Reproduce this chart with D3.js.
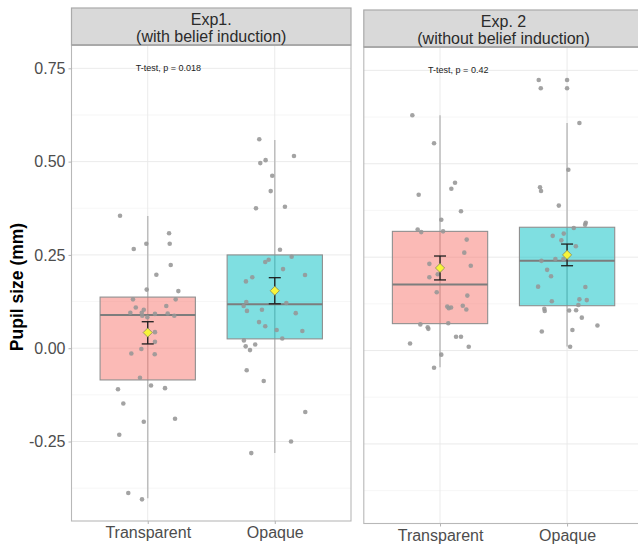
<!DOCTYPE html>
<html>
<head>
<meta charset="utf-8">
<script src="https://cdn.jsdelivr.net/npm/d3@7"></script>
<style>
  html, body { margin: 0; padding: 0; background: #ffffff; }
  svg { display: block; }
</style>
</head>
<body>
<svg id="chart" width="638" height="544"></svg>
<script>
// ---------------- DATA ----------------
const categories = ["Transparent", "Opaque"];
const panelTitles = [["Exp1.", "(with belief induction)"], ["Exp. 2", "(without belief induction)"]];
const testLabels = ["T-test, p = 0.018", "T-test, p = 0.42"];
const yTicks = [-0.25, 0, 0.25, 0.5, 0.75];
const yTickLabels = ["-0.25", "0.00", "0.25", "0.50", "0.75"];
const yMinor = [-0.375, -0.125, 0.125, 0.375, 0.625];
const yTitle = "Pupil size (mm)";

// box statistics: [lowerWhisker, q1, median, q3, upperWhisker]  (panel 1 then panel 2)
const boxExp1 = [[-0.402, -0.085, 0.089, 0.137, 0.354], [-0.281, 0.025, 0.118, 0.250, 0.558]];
const boxExp2 = [[-0.045, 0.072, 0.177, 0.319, 0.630], [0.011, 0.120, 0.240, 0.330, 0.609]];
// mean, lower error, upper error
const meanExp1 = [[0.042, 0.0115, 0.071], [0.154, 0.119, 0.189]];
const meanExp2 = [[0.221, 0.189, 0.253], [0.256, 0.227, 0.285]];

// individual observations (value) and their jitter offset (category units)
const exp1TranspY = [0.355,0.308,0.280,0.280,0.266,0.223,0.197,0.157,0.153,0.131,0.131,0.113,0.109,0.103,0.095,0.095,0.092,0.093,0.087,0.087,0.083,0.043,0.017,-0.014,-0.002,-0.016,-0.079,-0.100,-0.107,-0.110,-0.148,-0.189,-0.197,-0.232,-0.388,-0.405];
const exp1TranspJ = [-0.218,0.168,-0.011,0.173,-0.110,0.181,0.068,-0.008,0.241,-0.116,0.220,0.146,-0.094,-0.031,-0.137,-0.047,0.057,0.157,-0.043,0.209,-0.003,0.057,0.057,-0.129,-0.050,0.055,-0.061,0.026,0.136,-0.234,-0.192,0.215,-0.031,-0.224,-0.153,-0.045];
const exp1OpaqY = [0.560,0.496,0.504,0.515,0.462,0.421,0.375,0.379,0.264,0.245,0.237,0.231,0.212,0.190,0.196,0.179,0.124,0.113,0.121,0.100,0.103,0.094,0.070,0.059,0.049,0.046,0.026,0.021,0.005,-0.005,0.010,-0.059,-0.088,-0.171,-0.250,-0.281];
const exp1OpaqJ = [-0.122,-0.114,-0.072,0.151,-0.020,-0.032,-0.148,0.080,0.041,0.133,-0.048,-0.075,0.065,-0.177,0.238,-0.227,-0.224,-0.245,0.091,-0.219,-0.101,0.165,-0.124,-0.075,0.015,0.217,0.059,-0.243,-0.229,-0.195,-0.154,-0.221,-0.087,0.240,0.128,-0.185];
const exp2TranspY = [0.630,0.555,0.449,0.433,0.417,0.373,0.350,0.324,0.317,0.319,0.297,0.262,0.232,0.227,0.204,0.196,0.156,0.147,0.118,0.115,0.120,0.113,0.110,0.070,0.062,0.058,0.073,0.037,0.037,0.019,0.010,-0.011,-0.046];
const exp2TranspJ = [-0.218,-0.047,0.118,0.089,-0.168,0.165,0.010,-0.176,-0.148,0.024,0.210,0.191,-0.084,0.242,-0.018,-0.084,-0.026,0.215,0.057,0.087,0.179,0.069,0.207,-0.155,-0.097,-0.092,0.065,0.126,0.165,-0.236,0.226,0.010,-0.047];
const exp2OpaqY = [0.724,0.724,0.702,0.702,0.609,0.484,0.437,0.427,0.388,0.342,0.337,0.328,0.313,0.307,0.295,0.279,0.245,0.245,0.240,0.216,0.199,0.171,0.170,0.132,0.137,0.135,0.122,0.112,0.106,0.107,0.108,0.088,0.067,0.055,0.051,0.010];
const exp2OpaqJ = [-0.223,0,-0.207,0,0.097,0.010,-0.213,-0.205,-0.065,0.147,0.142,0.053,-0.026,-0.113,-0.045,0.069,-0.092,-0.029,-0.202,-0.157,-0.126,-0.228,0.144,-0.120,0.097,0.155,0.089,-0.179,-0.176,0.016,0.071,0.116,0.239,0.042,-0.199,0.024];

const fillColors = ["#F8766D", "#00BFC4"];

// ---------------- LAYOUT ----------------
const panels = [
  { x0: 71.5, x1: 351, hTop: 8, top: 45, bottom: 521,
    box: boxExp1, mean: meanExp1,
    pts: [[exp1TranspY, exp1TranspJ], [exp1OpaqY, exp1OpaqJ]] },
  { x0: 363.8, x1: 643.3, hTop: 10, top: 47, bottom: 523.5,
    box: boxExp2, mean: meanExp2,
    pts: [[exp2TranspY, exp2TranspJ], [exp2OpaqY, exp2OpaqJ]] }
];
const yDomain = [-0.463, 0.8125];
const font = "'Liberation Sans', Arial, Helvetica, sans-serif";

const svg = d3.select("#chart");

panels.forEach((p, pi) => {
  const x = d3.scalePoint().domain(categories).range([p.x0, p.x1]).padding(0.6);
  const step = x.step();
  const y = d3.scaleLinear().domain(yDomain).range([p.bottom, p.top]);
  const g = svg.append("g");

  // panel background
  g.append("rect").attr("x", p.x0).attr("y", p.top)
    .attr("width", p.x1 - p.x0).attr("height", p.bottom - p.top).attr("fill", "#fff");

  // minor grid
  g.selectAll(".ymin").data(yMinor).join("line")
    .attr("x1", p.x0).attr("x2", p.x1)
    .attr("y1", d => y(d)).attr("y2", d => y(d))
    .attr("stroke", "#f2f2f2").attr("stroke-width", 0.7);
  // major grid
  g.selectAll(".ymaj").data(yTicks).join("line")
    .attr("x1", p.x0).attr("x2", p.x1)
    .attr("y1", d => y(d)).attr("y2", d => y(d))
    .attr("stroke", "#e8e8e8").attr("stroke-width", 0.9);
  g.selectAll(".xmaj").data(categories).join("line")
    .attr("x1", d => x(d)).attr("x2", d => x(d))
    .attr("y1", p.top).attr("y2", p.bottom)
    .attr("stroke", "#e8e8e8").attr("stroke-width", 0.9);

  const boxW = step * 0.75;

  categories.forEach((c, ci) => {
    const b = p.box[ci];
    const cx = x(c);
    // whisker
    g.append("line").attr("x1", cx).attr("x2", cx)
      .attr("y1", y(b[0])).attr("y2", y(b[4]))
      .attr("stroke", "#bdbdbd").attr("stroke-width", 1.5);
    // box
    g.append("rect").attr("x", cx - boxW / 2).attr("y", y(b[3]))
      .attr("width", boxW).attr("height", y(b[1]) - y(b[3]))
      .attr("fill", fillColors[ci]).attr("fill-opacity", 0.5)
      .attr("stroke", "#8f8f8f").attr("stroke-width", 1.1);
    // median
    g.append("line").attr("x1", cx - boxW / 2).attr("x2", cx + boxW / 2)
      .attr("y1", y(b[2])).attr("y2", y(b[2]))
      .attr("stroke", "#7d7d7d").attr("stroke-width", 2);
  });

  categories.forEach((c, ci) => {
    const [vals, jit] = p.pts[ci];
    const cx = x(c);
    g.selectAll(null).data(vals).join("circle")
      .attr("cx", (d, i) => cx + jit[i] * step)
      .attr("cy", d => y(d))
      .attr("r", 2.3)
      .attr("fill", "#969696").attr("fill-opacity", 0.88);
  });

  categories.forEach((c, ci) => {
    const m = p.mean[ci];
    const cx = x(c);
    const cap = 6;
    const eg = g.append("g").attr("stroke", "#1f1f1f").attr("stroke-width", 1.3);
    eg.append("line").attr("x1", cx).attr("x2", cx).attr("y1", y(m[1])).attr("y2", y(m[2]));
    eg.append("line").attr("x1", cx - cap).attr("x2", cx + cap).attr("y1", y(m[1])).attr("y2", y(m[1]));
    eg.append("line").attr("x1", cx - cap).attr("x2", cx + cap).attr("y1", y(m[2])).attr("y2", y(m[2]));
    const r = 4.6, my = y(m[0]);
    g.append("path")
      .attr("d", `M${cx},${my - r}L${cx + r},${my}L${cx},${my + r}L${cx - r},${my}Z`)
      .attr("fill", "#f7f43a").attr("stroke", "#8a8a5a").attr("stroke-width", 0.8);
  });

  // test annotation
  g.append("text").attr("x", p.x0 + (p.x1 - p.x0) * (pi === 0 ? 0.347 : 0.338))
    .attr("y", y(0.75)).attr("dy", "0.35em")
    .attr("text-anchor", "middle").attr("font-family", font).attr("font-size", 9)
    .attr("fill", "#222").text(testLabels[pi]);

  // panel border
  g.append("rect").attr("x", p.x0).attr("y", p.top)
    .attr("width", p.x1 - p.x0).attr("height", p.bottom - p.top)
    .attr("fill", "none").attr("stroke", "#b8b8b8").attr("stroke-width", 1.1);

  // strip header
  g.append("rect").attr("x", p.x0).attr("y", p.hTop)
    .attr("width", p.x1 - p.x0).attr("height", p.top - p.hTop)
    .attr("fill", "#d9d9d9").attr("stroke", "#aaaaaa").attr("stroke-width", 1.2);
  g.append("line").attr("x1", p.x0).attr("x2", p.x1).attr("y1", p.top).attr("y2", p.top)
    .attr("stroke", "#a3a3a3").attr("stroke-width", 1.6);
  const hc = (p.x0 + p.x1) / 2;
  panelTitles[pi].forEach((t, li) => {
    g.append("text").attr("x", hc).attr("y", p.hTop + 17 + li * 16.5)
      .attr("text-anchor", "middle").attr("font-family", font).attr("font-size", 16)
      .attr("fill", "#2b2b2b").text(t);
  });

  // x axis
  const xAxis = d3.axisBottom(x).tickSize(3).tickPadding(3);
  const xg = g.append("g").attr("transform", `translate(0,${p.bottom})`).call(xAxis);
  xg.select(".domain").remove();
  xg.selectAll(".tick line").attr("stroke", "#b3b3b3");
  xg.selectAll(".tick text").attr("font-family", font).attr("font-size", 16).attr("fill", "#4d4d4d");

  // y axis (left panel only)
  if (pi === 0) {
    const yAxis = d3.axisLeft(y).tickValues(yTicks)
      .tickFormat((d, i) => yTickLabels[i]).tickSize(3).tickPadding(3);
    const yg = g.append("g").attr("transform", `translate(${p.x0},0)`).call(yAxis);
    yg.select(".domain").remove();
    yg.selectAll(".tick line").attr("stroke", "#b3b3b3");
    yg.selectAll(".tick text").attr("font-family", font).attr("font-size", 16).attr("fill", "#4d4d4d");
    svg.append("text")
      .attr("transform", `translate(23,${(p.top + p.bottom) / 2 + 4}) rotate(-90)`)
      .attr("text-anchor", "middle").attr("font-family", font)
      .attr("font-size", 17.5).attr("font-weight", "bold").attr("fill", "#000")
      .text(yTitle);
  }
});
</script>
</body>
</html>
